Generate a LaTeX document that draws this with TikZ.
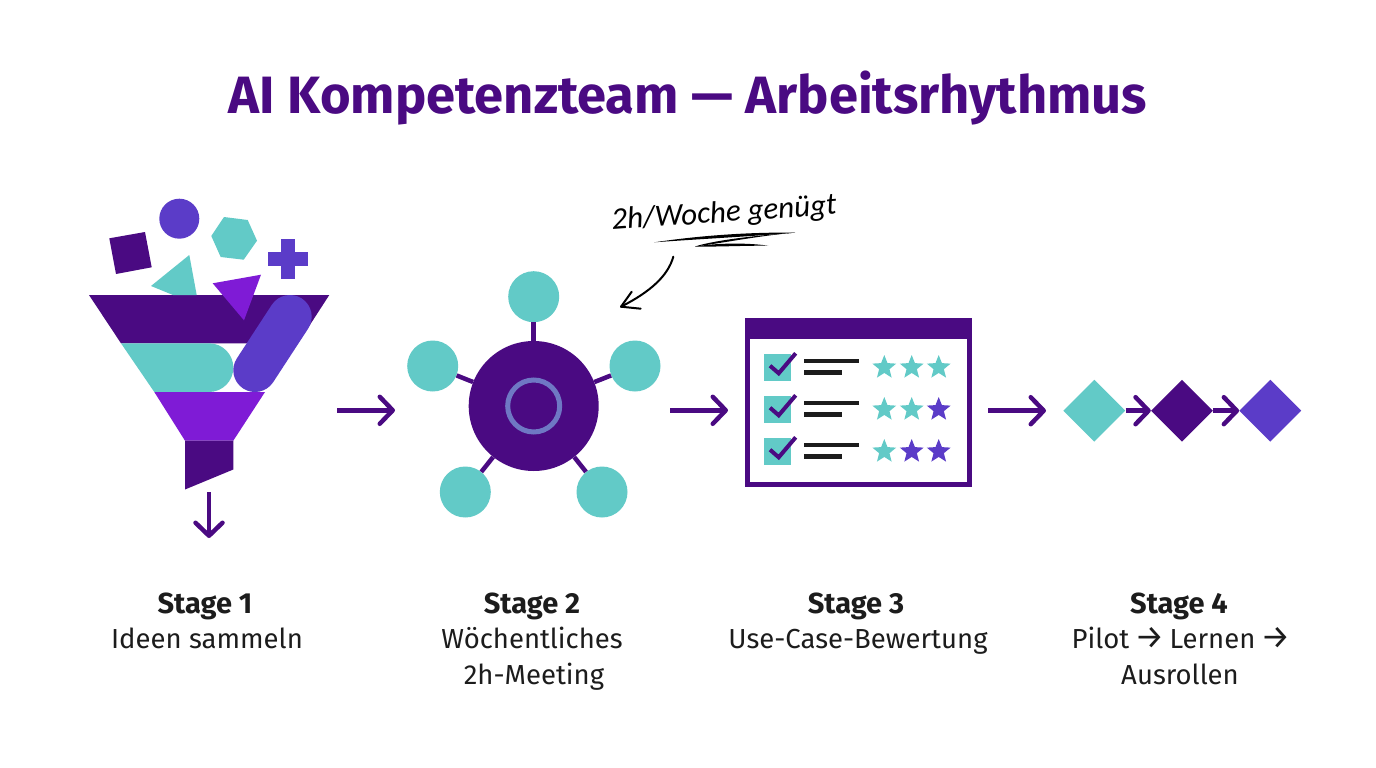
\documentclass[tikz,border=0pt]{standalone}
\usepackage{fontspec}
\setmainfont{Fira Sans}
\newfontfamily\notefont{Carlito}
\usetikzlibrary{
  arrows.meta, % for the barbed arrow tips
  shapes.geometric, % for the diamonds and stars
}
\definecolor{deep}{HTML}{4A0A82}
\definecolor{teal}{HTML}{62CAC7}
\definecolor{indigo}{HTML}{5B3CC8}
\definecolor{violet}{HTML}{7F1BD6}
\definecolor{ringblue}{HTML}{6F78C4}
\definecolor{ink}{HTML}{1C1C1C}
\newcommand{\bigarrow}{\kern-2pt{\fontsize{33}{35}\selectfont →}\kern-2pt}
\tikzset{
  conn/.style={ % style for the purple arrows
    draw=deep,line width=4.5pt,
    -{Straight Barb[length=13pt,width=27pt,line width=4.5pt,round]},
  },
  spoke/.style={draw=deep,line width=4.5pt}, % hub to satellite
  sat/.style={circle,fill=teal,inner sep=0pt,minimum size=51pt}, % satellites of the hub
  flow/.style={diamond,inner sep=0pt,minimum width=62pt,minimum height=62pt}, % pilot steps
  rate/.style={star,star points=5,star point ratio=2.3,inner sep=0pt,minimum size=25pt}, % stars
  check/.style={draw=deep,line width=4pt}, % tick in the box
  bar/.style={draw=ink,line width=4.6pt}, % text line in the form
  stagehead/.style={font=\fontsize{29}{34}\selectfont\bfseries,text=ink,anchor=base},
  stagetext/.style={font=\fontsize{27.5}{35}\selectfont,text=ink,anchor=base},
}

\begin{document}
\begin{tikzpicture}[x=1pt,y=-1pt]
	\useasboundingbox (0,0) rectangle (1376,768);
	\fill[white] (0,0) rectangle (1376,768);

	\node (title) [anchor=base,text=deep,font=\fontsize{52.5}{60}\selectfont\bfseries] at (688,113) {AI Kompetenzteam — Arbeitsrhythmus};

	% funnel
	\fill[deep] (89,295) -- (329.3,295) -- (298,343.3) -- (121,343.3) -- cycle;
	\fill[teal] (121,343.3) -- (209,343.3) arc[start angle=-90,end angle=90,radius=24.35pt,y radius=-24.35pt] -- (154.3,392) -- cycle;
	\fill[violet] (154.3,392) -- (265,392) -- (233.3,440.7) -- (185,440.7) -- cycle;
	\fill[deep] (185,440.7) -- (233.3,440.7) -- (233.3,469.5) -- (185,489.5) -- cycle;
	\draw[indigo,line width=43.4pt,line cap=round] (290,316.7) -- (255,370.3);

	% shapes falling in
	\fill[deep] (109.3,238.3) -- (145,232) -- (151.7,267.3) -- (116,274) -- cycle;
	\fill[indigo] (179.3,218.7) circle[radius=20pt];
	\fill[teal] (224,217) -- (247.7,220) -- (257,240.7) -- (243.7,259.7) -- (220.7,257) -- (211.3,236) -- cycle;
	\fill[indigo] (281.3,239) rectangle (294.7,279);
	\fill[indigo] (268,252.3) rectangle (308,265.7);
	\fill[teal] (189.3,255) -- (151,286) -- (173,295) -- (196.7,295) -- cycle;
	\fill[violet] (212.7,283.3) -- (261,274.7) -- (244,320.3) -- cycle;

	\coordinate (funnelout) at (209,492);
	\coordinate (funnelend) at (209,538);
	\draw[conn] (funnelout) -- (funnelend);

	\coordinate (a1s) at (337,410.3);
	\coordinate (a1e) at (395,410.3);
	\draw[conn] (a1s) -- (a1e);

	% hub
	\node (hub) [circle,fill=deep,inner sep=0pt,minimum size=130pt] at (533.7,406) {};
	\node (ring) [circle,draw=ringblue,line width=5pt,inner sep=0pt,minimum size=52pt] at (hub) {};
	\node (sattop) [sat] at (533.7,296.7) {};
	\node (satright) [sat] at (635,366) {};
	\node (satleft) [sat] at (432.7,366) {};
	\node (satlow) [sat] at (465.3,492) {};
	\node (satrlow) [sat] at (602,492) {};
	\foreach \s in {sattop,satright,satleft,satlow,satrlow}
		\draw[spoke] (hub) -- (\s);

	% note
	\node (note) [rotate=4,text=black,font=\fontsize{31}{36}\selectfont\notefont\itshape] at (724,214) {2h/Woche genügt};
	\coordinate (swa) at (654.3,242.3);
	\coordinate (swb) at (795,232.7);
	\coordinate (swc) at (695,246.5);
	\coordinate (swd) at (768.3,245.7);
	\fill[black] (swa) .. controls (700,235.5) and (750,232) .. (swb) .. controls (750,236.5) and (700,239) .. (swa) -- cycle;
	\fill[black] (swb) .. controls (760,235) and (715,240) .. (swc) .. controls (720,243.5) and (760,235.5) .. (swb) -- cycle;
	\fill[black] (swc) .. controls (720,242.5) and (750,243) .. (swd) .. controls (745,245.5) and (715,247) .. (swc) -- cycle;
	\coordinate (notefrom) at (673.3,256.7);
	\coordinate (noteto) at (621,306.7);
	\draw[black,line width=2pt,line cap=round,line join=round] (notefrom) .. controls (668,276) and (650,292) .. (noteto);
	\draw[black,line width=2pt,line cap=round,line join=round] (631.7,291.7) -- (noteto) -- (640.7,308.7);

	\coordinate (a2s) at (670,410.3);
	\coordinate (a2e) at (728,410.3);
	\draw[conn] (a2s) -- (a2e);

	% form
	\draw[deep,line width=5pt] (747.5,321) rectangle (969,484);
	\fill[deep] (745,318.3) rectangle (971.5,339.3);
	\foreach \row/\cola/\colb/\colc in {0/teal/teal/teal,1/teal/teal/indigo,2/teal/indigo/indigo}{
		\fill[teal] (763.7,353.7+42*\row) rectangle (790.7,380.7+42*\row);
		\draw[check] (770,365.7+42*\row) -- (778.7,373.3+42*\row) -- (795.7,353.3+42*\row);
		\draw[bar] (804,361+42*\row) -- (859,361+42*\row);
		\draw[bar] (804,372.7+42*\row) -- (842,372.7+42*\row);
		\node[rate,fill=\cola] at (884.3,367.5+42*\row) {};
		\node[rate,fill=\colb] at (911.7,367.5+42*\row) {};
		\node[rate,fill=\colc] at (938.7,367.5+42*\row) {};
	}

	\coordinate (a3s) at (988,410.7);
	\coordinate (a3e) at (1046,410.7);
	\draw[conn] (a3s) -- (a3e);

	% pilot steps
	\node (pilot) [flow,fill=teal] at (1094.3,410.7) {};
	\node (learn) [flow,fill=deep] at (1182,410.7) {};
	\node (roll) [flow,fill=indigo] at (1270.3,410.7) {};
	\draw[conn] (pilot) -- (learn);
	\draw[conn] (learn) -- (roll);

	% labels
	\node (s1) [stagehead] at (205,613) {Stage 1};
	\node (t1) [stagetext] at (207,648) {Ideen sammeln};
	\node (s2) [stagehead] at (532,613) {Stage 2};
	\node (t2) [stagetext] at (532,648) {Wöchentliches};
	\node (u2) [stagetext] at (534,684) {2h-Meeting};
	\node (s3) [stagehead] at (856,613) {Stage 3};
	\node (t3) [stagetext] at (858,648) {Use-Case-Bewertung};
	\node (s4) [stagehead] at (1179,613) {Stage 4};
	\node (t4) [stagetext] at (1180,648) {Pilot \bigarrow{} Lernen \bigarrow};
	\node (u4) [stagetext] at (1180,684) {Ausrollen};
\end{tikzpicture}
\end{document}
